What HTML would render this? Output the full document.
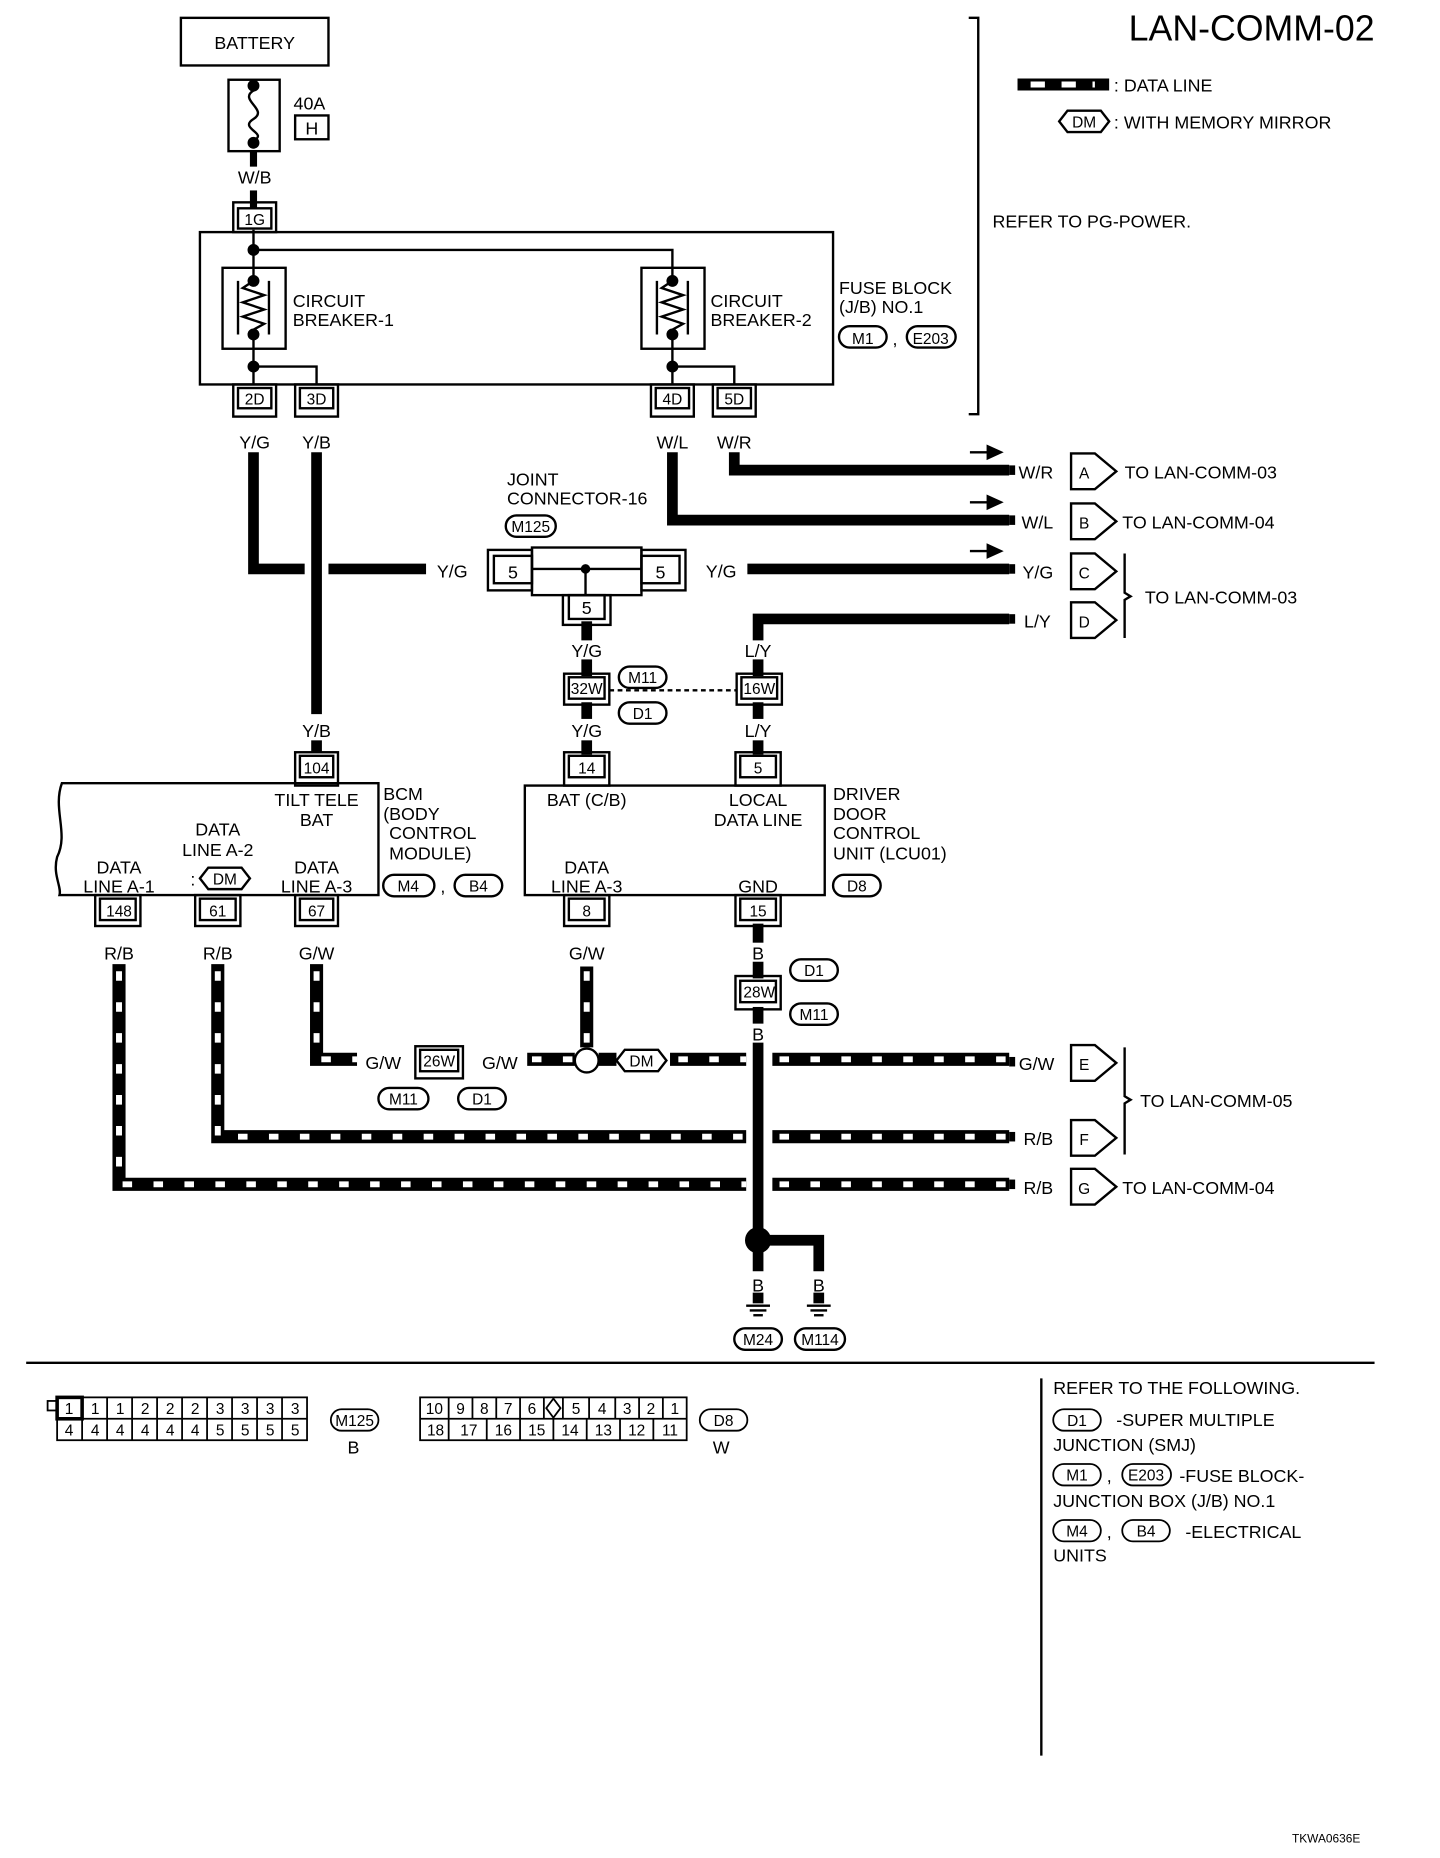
<!DOCTYPE html>
<html><head><meta charset="utf-8"><style>
html,body{margin:0;padding:0;background:#fff;}
svg{display:block;}
text{font-family:"Liberation Sans",sans-serif;font-size:15px;fill:#000;}
.c{text-anchor:middle;}
.r{text-anchor:end;}
.s{font-size:13px;}
</style></head><body>
<svg width="1440" height="1858" viewBox="0 0 1210 1561" preserveAspectRatio="none" xmlns="http://www.w3.org/2000/svg">
<defs>
<g id="gnd"><line x1="-10" y1="0" x2="10" y2="0" stroke="#000" stroke-width="2"/><line x1="-7" y1="4" x2="7" y2="4" stroke="#000" stroke-width="2"/><line x1="-4" y1="8" x2="4" y2="8" stroke="#000" stroke-width="2"/></g>
</defs>
<g fill="none" stroke="#000" stroke-width="2">
<!-- battery -->
<rect x="152" y="15" width="124" height="40"/>
<rect x="192" y="67" width="43" height="60"/>
<path d="M213 76 C200 84,226 92,213 100 C200 108,226 112,213 118"/>
<rect x="248" y="97" width="28" height="20"/>
<line x1="213" y1="127" x2="213" y2="140" stroke-width="6"/>
<line x1="213" y1="160" x2="213" y2="175" stroke-width="6"/>
<rect x="196" y="170" width="36" height="25"/><rect x="200" y="175" width="28" height="17"/>
<!-- fuse block -->
<rect x="168" y="195" width="532" height="128"/>
<polyline points="213,193 213,210 565,210 565,236"/>
<line x1="213" y1="210" x2="213" y2="236"/>
<rect x="187" y="225" width="53" height="68"/><rect x="539" y="225" width="53" height="68"/>
<path d="M200 236 V281 M226 236 V281 M213 236 l-9 6 18 6 -18 6 18 6 -18 6 18 6 -9 5"/>
<path d="M552 236 V281 M578 236 V281 M565 236 l-9 6 18 6 -18 6 18 6 -18 6 18 6 -9 5"/>
<polyline points="213,281 213,323"/><polyline points="213,308 266,308 266,323"/>
<polyline points="565,281 565,323"/><polyline points="565,308 617,308 617,323"/>
<g>
<rect x="196" y="323" width="36" height="27"/><rect x="200" y="326" width="28" height="17"/>
<rect x="248" y="323" width="36" height="27"/><rect x="252" y="326" width="28" height="17"/>
<rect x="547" y="323" width="36" height="27"/><rect x="551" y="326" width="28" height="17"/>
<rect x="599" y="323" width="36" height="27"/><rect x="603" y="326" width="28" height="17"/>
</g>
<rect x="705" y="274" width="40" height="18" rx="9"/><rect x="762" y="274" width="41" height="18" rx="9"/>
<polyline points="814,15 822,15 822,348 814,348"/>
<!-- legend -->
<polygon points="890,102 897,93 925,93 932,102 925,111 897,111"/>
</g>
<g fill="#000">
<circle cx="213" cy="72" r="5"/><circle cx="213" cy="120" r="5"/>
<circle cx="213" cy="210" r="5"/><circle cx="213" cy="236" r="5"/><circle cx="213" cy="281" r="5"/><circle cx="213" cy="308" r="5"/>
<circle cx="565" cy="236" r="5"/><circle cx="565" cy="281" r="5"/><circle cx="565" cy="308" r="5"/>
</g>
<text x="214" y="41" class="c">BATTERY</text>
<text x="260" y="92" class="c">40A</text><text x="262" y="113" class="c">H</text>
<text x="214" y="154" class="c">W/B</text><text x="214" y="189" class="c s">1G</text>
<text x="246" y="258">CIRCUIT</text><text x="246" y="274">BREAKER-1</text>
<text x="597" y="258">CIRCUIT</text><text x="597" y="274">BREAKER-2</text>
<text x="214" y="340" class="c s">2D</text><text x="266" y="340" class="c s">3D</text>
<text x="565" y="340" class="c s">4D</text><text x="617" y="340" class="c s">5D</text>
<text x="705" y="247">FUSE BLOCK</text><text x="705" y="263">(J/B) NO.1</text>
<text x="725" y="289" class="c s">M1</text><text x="750" y="290">,</text><text x="782" y="289" class="c s">E203</text>
<text x="1155" y="34" class="r" style="font-size:30px">LAN-COMM-02</text>
<line x1="855" y1="71" x2="932" y2="71" stroke="#000" stroke-width="10"/>
<line x1="866" y1="71" x2="920" y2="71" stroke="#fff" stroke-width="5" stroke-dasharray="12 14"/>
<text x="936" y="77">: DATA LINE</text>
<text x="911" y="107" class="c s">DM</text><text x="936" y="108">: WITH MEMORY MIRROR</text>
<text x="834" y="191">REFER TO PG-POWER.</text>

<!-- solid wires -->
<g fill="none" stroke="#000" stroke-width="9">
<polyline points="213,380 213,478 256,478"/><line x1="276" y1="478" x2="358" y2="478"/>
<line x1="266" y1="380" x2="266" y2="600"/>
<polyline points="617,380 617,395 848,395"/>
<polyline points="565,380 565,437 848,437"/>
<line x1="628" y1="478" x2="848" y2="478"/>
<polyline points="848,520 637,520 540,520" stroke-width="0"/>
<polyline points="848,520 637,520 637,538"/>
<line x1="637" y1="590" x2="637" y2="604"/><line x1="637" y1="622" x2="637" y2="634"/>
<line x1="637" y1="554" x2="637" y2="568"/>
<line x1="493" y1="522" x2="493" y2="538"/><line x1="493" y1="554" x2="493" y2="568"/>
<line x1="493" y1="590" x2="493" y2="604"/><line x1="493" y1="622" x2="493" y2="634"/>
<line x1="266" y1="622" x2="266" y2="632"/>
<line x1="637" y1="776" x2="637" y2="792"/><line x1="637" y1="808" x2="637" y2="822"/><line x1="637" y1="846" x2="637" y2="860"/>
<line x1="637" y1="876" x2="637" y2="1042"/>
<polyline points="637,1042 688,1042 688,1068"/>
<line x1="637" y1="1042" x2="637" y2="1068"/>
<line x1="637" y1="1086" x2="637" y2="1095"/><line x1="688" y1="1086" x2="688" y2="1095"/>
</g>
<circle cx="637" cy="1042" r="11" fill="#000"/>
<use href="#gnd" x="637" y="1097"/><use href="#gnd" x="688" y="1097"/>
<g fill="#000"><rect x="848" y="391" width="5" height="8"/><rect x="848" y="433" width="5" height="8"/><rect x="848" y="474" width="5" height="8"/><rect x="848" y="516" width="5" height="8"/>
<rect x="848" y="888" width="5" height="8"/><rect x="848" y="951" width="5" height="8"/><rect x="848" y="991" width="5" height="8"/></g>
<!-- arrows -->
<g stroke="#000" stroke-width="2" fill="#000">
<line x1="815" y1="380" x2="832" y2="380"/><polygon points="830,375 841,380 830,385"/>
<line x1="815" y1="422" x2="832" y2="422"/><polygon points="830,417 841,422 830,427"/>
<line x1="815" y1="463" x2="832" y2="463"/><polygon points="830,458 841,463 830,468"/>
</g>
<!-- pentagons -->
<g fill="#fff" stroke="#000" stroke-width="2">
<polygon points="900,381 920,381 938,396 920,411 900,411"/>
<polygon points="900,423 920,423 938,438 920,453 900,453"/>
<polygon points="900,465 920,465 938,480 920,495 900,495"/>
<polygon points="900,506 920,506 938,521 920,536 900,536"/>
<polygon points="900,878 920,878 938,893 920,908 900,908"/>
<polygon points="900,941 920,941 938,956 920,971 900,971"/>
<polygon points="900,982 920,982 938,997 920,1012 900,1012"/>
</g>
<text x="911" y="402" class="c s">A</text><text x="911" y="444" class="c s">B</text><text x="911" y="486" class="c s">C</text><text x="911" y="527" class="c s">D</text>
<text x="911" y="899" class="c s">E</text><text x="911" y="962" class="c s">F</text><text x="911" y="1003" class="c s">G</text>
<text x="885" y="402" class="r">W/R</text><text x="885" y="444" class="r">W/L</text><text x="885" y="486" class="r">Y/G</text><text x="883" y="527" class="r">L/Y</text>
<text x="886" y="899" class="r">G/W</text><text x="885" y="962" class="r">R/B</text><text x="885" y="1003" class="r">R/B</text>
<text x="945" y="402">TO LAN-COMM-03</text><text x="943" y="444">TO LAN-COMM-04</text>
<text x="962" y="507">TO LAN-COMM-03</text>
<text x="958" y="930">TO LAN-COMM-05</text><text x="943" y="1003">TO LAN-COMM-04</text>
<g fill="none" stroke="#000" stroke-width="2">
<path d="M945 465 V498 l5 3 -5 3 V536"/>
<path d="M945 880 V921 l5 3 -5 3 V970"/>
</g>
<!-- labels wires -->
<text x="214" y="377" class="c">Y/G</text><text x="266" y="377" class="c">Y/B</text><text x="565" y="377" class="c">W/L</text><text x="617" y="377" class="c">W/R</text>
<text x="380" y="485" class="c">Y/G</text><text x="606" y="485" class="c">Y/G</text>
<!-- joint connector -->
<g fill="none" stroke="#000" stroke-width="2">
<rect x="447" y="460" width="92" height="40"/>
<line x1="447" y1="478" x2="539" y2="478"/><line x1="492" y1="478" x2="492" y2="500"/>
<rect x="410" y="462" width="37" height="34"/><rect x="415" y="467" width="32" height="23"/>
<rect x="539" y="462" width="37" height="34"/><rect x="539" y="467" width="32" height="23"/>
<rect x="473" y="500" width="40" height="25"/><rect x="478" y="500" width="30" height="20"/>
<rect x="425" y="433" width="42" height="18" rx="9"/>
</g>
<circle cx="492" cy="478" r="4"/>
<text x="431" y="486" class="c">5</text><text x="555" y="486" class="c">5</text><text x="493" y="516" class="c">5</text>
<text x="426" y="408">JOINT</text><text x="426" y="424">CONNECTOR-16</text>
<text x="446" y="447" class="c s">M125</text>
<!-- splice -->
<g fill="none" stroke="#000" stroke-width="2">
<rect x="474" y="566" width="38" height="26"/><rect x="478" y="569" width="30" height="18"/>
<rect x="619" y="566" width="38" height="26"/><rect x="623" y="569" width="30" height="18"/>
<rect x="520" y="560" width="40" height="18" rx="9"/><rect x="520" y="590" width="40" height="18" rx="9"/>
<line x1="512" y1="580" x2="619" y2="580" stroke-dasharray="4 3"/>
</g>
<text x="493" y="552" class="c">Y/G</text><text x="637" y="552" class="c">L/Y</text>
<text x="493" y="583" class="c s">32W</text><text x="638" y="583" class="c s">16W</text>
<text x="540" y="574" class="c s">M11</text><text x="540" y="604" class="c s">D1</text>
<text x="493" y="619" class="c">Y/G</text><text x="637" y="619" class="c">L/Y</text><text x="266" y="619" class="c">Y/B</text>
<!-- BCM -->
<g fill="none" stroke="#000" stroke-width="2">
<path d="M318 658 H52 C44 680,58 700,48 720 C44 735,52 745,50 752 H318 Z"/>
<rect x="441" y="660" width="252" height="92"/>
<rect x="248" y="632" width="36" height="28"/><rect x="252" y="635" width="28" height="18"/>
<rect x="474" y="632" width="38" height="28"/><rect x="478" y="635" width="30" height="18"/>
<rect x="618" y="632" width="38" height="28"/><rect x="622" y="635" width="30" height="18"/>
<rect x="80" y="752" width="38" height="26"/><rect x="84" y="755" width="30" height="18"/>
<rect x="164" y="752" width="38" height="26"/><rect x="168" y="755" width="30" height="18"/>
<rect x="248" y="752" width="36" height="26"/><rect x="252" y="755" width="28" height="18"/>
<rect x="474" y="752" width="38" height="26"/><rect x="478" y="755" width="30" height="18"/>
<rect x="618" y="752" width="38" height="26"/><rect x="622" y="755" width="30" height="18"/>
<polygon points="168,738 175,729 203,729 210,738 203,747 175,747"/>
<rect x="322" y="735" width="43" height="18" rx="9"/><rect x="382" y="735" width="40" height="18" rx="9"/>
<rect x="700" y="735" width="40" height="18" rx="9"/>
</g>
<text x="266" y="650" class="c s">104</text><text x="493" y="650" class="c s">14</text><text x="637" y="650" class="c s">5</text>
<text x="266" y="677" class="c">TILT TELE</text><text x="266" y="694" class="c">BAT</text>
<text x="183" y="702" class="c">DATA</text><text x="183" y="719" class="c">LINE A-2</text>
<text x="160" y="744">:</text><text x="189" y="743" class="c s">DM</text>
<text x="100" y="734" class="c">DATA</text><text x="100" y="750" class="c">LINE A-1</text>
<text x="266" y="734" class="c">DATA</text><text x="266" y="750" class="c">LINE A-3</text>
<text x="322" y="672">BCM</text><text x="322" y="689">(BODY</text><text x="327" y="705">CONTROL</text><text x="327" y="722">MODULE)</text>
<text x="343" y="749" class="c s">M4</text><text x="370" y="750">,</text><text x="402" y="749" class="c s">B4</text>
<text x="493" y="677" class="c">BAT (C/B)</text><text x="637" y="677" class="c">LOCAL</text><text x="637" y="694" class="c">DATA LINE</text>
<text x="493" y="734" class="c">DATA</text><text x="493" y="750" class="c">LINE A-3</text><text x="637" y="750" class="c">GND</text>
<text x="700" y="672">DRIVER</text><text x="700" y="689">DOOR</text><text x="700" y="705">CONTROL</text><text x="700" y="722">UNIT (LCU01)</text>
<text x="720" y="749" class="c s">D8</text>
<text x="100" y="770" class="c s">148</text><text x="183" y="770" class="c s">61</text><text x="266" y="770" class="c s">67</text>
<text x="493" y="770" class="c s">8</text><text x="637" y="770" class="c s">15</text>
<text x="100" y="806" class="c">R/B</text><text x="183" y="806" class="c">R/B</text><text x="266" y="806" class="c">G/W</text>
<text x="493" y="806" class="c">G/W</text><text x="637" y="806" class="c">B</text>
<!-- 28W splice -->
<g fill="none" stroke="#000" stroke-width="2">
<rect x="618" y="820" width="38" height="28"/><rect x="622" y="824" width="30" height="18"/>
<rect x="664" y="806" width="40" height="18" rx="9"/><rect x="664" y="843" width="40" height="18" rx="9"/>
</g>
<text x="638" y="838" class="c s">28W</text><text x="684" y="820" class="c s">D1</text><text x="684" y="857" class="c s">M11</text>
<text x="637" y="874" class="c">B</text>
<!-- data lines -->
<g fill="none" stroke-linejoin="miter">
<g stroke="#000" stroke-width="11">
<polyline points="266,810 266,890 300,890"/>
<line x1="443" y1="890" x2="483" y2="890"/><line x1="493" y1="812" x2="493" y2="880"/>
<line x1="503" y1="890" x2="518" y2="890"/><line x1="563" y1="890" x2="627" y2="890"/><line x1="649" y1="890" x2="848" y2="890"/>
<polyline points="183,810 183,955 627,955"/><line x1="649" y1="955" x2="848" y2="955"/>
<polyline points="100,810 100,995 627,995"/><line x1="649" y1="995" x2="848" y2="995"/>
</g>
<g stroke="#fff" stroke-width="5" stroke-dasharray="8 18">
<polyline points="266,816 266,890 300,890"/>
<line x1="447" y1="890" x2="483" y2="890"/><line x1="493" y1="816" x2="493" y2="880"/>
<line x1="570" y1="890" x2="627" y2="890"/><line x1="655" y1="890" x2="848" y2="890"/>
<polyline points="183,816 183,955 627,955"/><line x1="655" y1="955" x2="848" y2="955"/>
<polyline points="100,816 100,995 627,995"/><line x1="655" y1="995" x2="848" y2="995"/>
</g>
</g>
<g fill="#fff" stroke="#000" stroke-width="2">
<circle cx="493" cy="891" r="10"/>
<polygon points="518,891 525,882 553,882 560,891 553,900 525,900"/>
<rect x="349" y="879" width="40" height="27"/><rect x="353" y="882" width="32" height="18"/>
<rect x="318" y="914" width="42" height="18" rx="9"/><rect x="385" y="914" width="40" height="18" rx="9"/>
<rect x="617" y="1116" width="40" height="18" rx="9"/><rect x="668" y="1116" width="42" height="18" rx="9"/>
</g>
<text x="322" y="898" class="c">G/W</text><text x="420" y="898" class="c">G/W</text>
<text x="369" y="896" class="c s">26W</text><text x="539" y="896" class="c s">DM</text>
<text x="339" y="928" class="c s">M11</text><text x="405" y="928" class="c s">D1</text>
<text x="637" y="1085" class="c">B</text><text x="688" y="1085" class="c">B</text>
<text x="637" y="1130" class="c s">M24</text><text x="689" y="1130" class="c s">M114</text>
<!-- bottom -->
<line x1="22" y1="1145" x2="1155" y2="1145" stroke="#000" stroke-width="2"/>
<line x1="875" y1="1158" x2="875" y2="1475" stroke="#000" stroke-width="2"/>
<g fill="none" stroke="#000" stroke-width="1.5">
<rect x="40" y="1177" width="8" height="8"/>
<rect x="48" y="1174" width="210" height="36"/><line x1="48" y1="1192" x2="258" y2="1192"/>
<path d="M69 1174V1210M90 1174V1210M111 1174V1210M132 1174V1210M153 1174V1210M174 1174V1210M195 1174V1210M216 1174V1210M237 1174V1210"/>
<rect x="353" y="1174" width="224" height="36"/><line x1="353" y1="1192" x2="577" y2="1192"/>
<path d="M377 1174V1210M397 1174V1192M417 1174V1192M437 1174V1192M457 1174V1192M473 1174V1192M495 1174V1192M517 1174V1192M537 1174V1192M557 1174V1192"/>
<path d="M409 1192V1210M437 1192V1210M465 1192V1210M493 1192V1210M521 1192V1210M549 1192V1210"/>
<polygon points="465,1175 471,1183 465,1191 459,1183"/>
<rect x="278" y="1184" width="40" height="18" rx="9"/><rect x="588" y="1184" width="40" height="18" rx="9"/>
<rect x="885" y="1184" width="40" height="18" rx="9"/>
<rect x="885" y="1230" width="40" height="18" rx="9"/><rect x="943" y="1230" width="41" height="18" rx="9"/>
<rect x="885" y="1277" width="40" height="18" rx="9"/><rect x="943" y="1277" width="40" height="18" rx="9"/>
</g>
<rect x="48" y="1174" width="21" height="18" fill="none" stroke="#000" stroke-width="3"/>
<g class="s">
<text x="58" y="1188" class="c s">1</text><text x="80" y="1188" class="c s">1</text><text x="101" y="1188" class="c s">1</text><text x="122" y="1188" class="c s">2</text><text x="143" y="1188" class="c s">2</text><text x="164" y="1188" class="c s">2</text><text x="185" y="1188" class="c s">3</text><text x="206" y="1188" class="c s">3</text><text x="227" y="1188" class="c s">3</text><text x="248" y="1188" class="c s">3</text>
<text x="58" y="1206" class="c s">4</text><text x="80" y="1206" class="c s">4</text><text x="101" y="1206" class="c s">4</text><text x="122" y="1206" class="c s">4</text><text x="143" y="1206" class="c s">4</text><text x="164" y="1206" class="c s">4</text><text x="185" y="1206" class="c s">5</text><text x="206" y="1206" class="c s">5</text><text x="227" y="1206" class="c s">5</text><text x="248" y="1206" class="c s">5</text>
<text x="365" y="1188" class="c s">10</text><text x="387" y="1188" class="c s">9</text><text x="407" y="1188" class="c s">8</text><text x="427" y="1188" class="c s">7</text><text x="447" y="1188" class="c s">6</text><text x="484" y="1188" class="c s">5</text><text x="506" y="1188" class="c s">4</text><text x="527" y="1188" class="c s">3</text><text x="547" y="1188" class="c s">2</text><text x="567" y="1188" class="c s">1</text>
<text x="366" y="1206" class="c s">18</text><text x="394" y="1206" class="c s">17</text><text x="423" y="1206" class="c s">16</text><text x="451" y="1206" class="c s">15</text><text x="479" y="1206" class="c s">14</text><text x="507" y="1206" class="c s">13</text><text x="535" y="1206" class="c s">12</text><text x="563" y="1206" class="c s">11</text>
</g>
<text x="298" y="1198" class="c s">M125</text><text x="297" y="1221" class="c">B</text>
<text x="608" y="1198" class="c s">D8</text><text x="606" y="1221" class="c">W</text>
<text x="885" y="1171">REFER TO THE FOLLOWING.</text>
<text x="905" y="1198" class="c s">D1</text><text x="938" y="1198">-SUPER MULTIPLE</text>
<text x="885" y="1219">JUNCTION (SMJ)</text>
<text x="905" y="1244" class="c s">M1</text><text x="930" y="1245">,</text><text x="963" y="1244" class="c s">E203</text><text x="991" y="1245">-FUSE BLOCK-</text>
<text x="885" y="1266">JUNCTION BOX (J/B) NO.1</text>
<text x="905" y="1291" class="c s">M4</text><text x="930" y="1292">,</text><text x="963" y="1291" class="c s">B4</text><text x="996" y="1292">-ELECTRICAL</text>
<text x="885" y="1312">UNITS</text>
<text x="1143" y="1548" class="r" style="font-size:10px">TKWA0636E</text>
</svg>
</body></html>
